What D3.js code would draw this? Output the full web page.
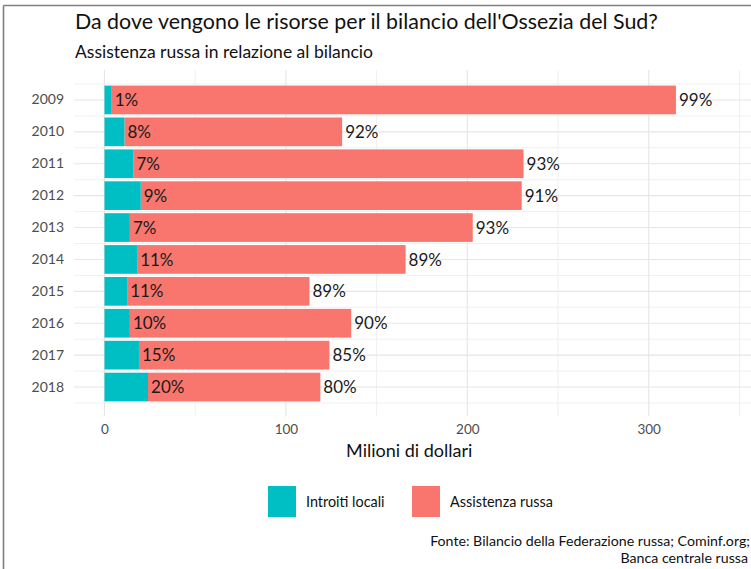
<!DOCTYPE html>
<html>
<head>
<meta charset="utf-8">
<script src="https://cdn.jsdelivr.net/npm/d3@7"></script>
<style>
  html, body { margin: 0; padding: 0; background: #fff; }
  svg { display: block; font-family: Lato, "Open Sans", sans-serif; }
</style>
</head>
<body>
<svg id="chart" width="751" height="569"></svg>
<script>
// South Ossetia budget: local revenue vs. Russian assistance (million USD)
const years = ["2009", "2010", "2011", "2012", "2013", "2014", "2015", "2016", "2017", "2018"];
const localRevenue = [4, 11, 16, 20, 14, 18, 12.5, 14, 19, 24];
const russianAid = [311, 120, 215, 210, 189, 148, 100.5, 122, 105, 95];
const xTicks = [0, 100, 200, 300];
const xMinor = [50, 150, 250, 350];
const seriesNames = ["Introiti locali", "Assistenza russa"];
const seriesColors = ["#00BFC4", "#F8766D"];

const svg = d3.select("#chart");

// frame line around the graphic
svg.append("line").attr("x1", 3.5).attr("x2", 3.5).attr("y1", 5.5).attr("y2", 569)
  .attr("stroke", "#808080").attr("stroke-width", 1.6);
svg.append("line").attr("x1", 3.5).attr("x2", 751).attr("y1", 5.5).attr("y2", 5.5)
  .attr("stroke", "#808080").attr("stroke-width", 1.6);

const panel = { left: 74, right: 744.5, top: 70, bottom: 416 };

const x = d3.scaleLinear().domain([-16.8, 352.8]).range([panel.left, panel.right]);
const y = d3.scaleBand().domain(years).range([84, 403]).paddingInner(0.1).paddingOuter(0.05);
const step = y.step();

// grid
const grid = svg.append("g");
grid.selectAll(".vminor").data(xMinor).join("line")
  .attr("x1", d => x(d)).attr("x2", d => x(d))
  .attr("y1", panel.top).attr("y2", panel.bottom)
  .attr("stroke", "#f0f0f0").attr("stroke-width", 1);
const hMinor = d3.range(years.length + 1).map(i => y(years[0]) + y.bandwidth() / 2 - step / 2 + i * step);
grid.selectAll(".hminor").data(hMinor).join("line")
  .attr("x1", panel.left).attr("x2", 751)
  .attr("y1", d => d).attr("y2", d => d)
  .attr("stroke", "#f0f0f0").attr("stroke-width", 1);
grid.selectAll(".vmajor").data(xTicks).join("line")
  .attr("x1", d => x(d)).attr("x2", d => x(d))
  .attr("y1", panel.top).attr("y2", panel.bottom)
  .attr("stroke", "#e6e6e6").attr("stroke-width", 1.1);
grid.selectAll(".hmajor").data(years).join("line")
  .attr("x1", panel.left).attr("x2", 751)
  .attr("y1", d => y(d) + y.bandwidth() / 2).attr("y2", d => y(d) + y.bandwidth() / 2)
  .attr("stroke", "#e6e6e6").attr("stroke-width", 1.1);

// axes (text only)
const yAxis = d3.axisLeft(y).tickSize(0).tickPadding(10);
svg.append("g").attr("transform", `translate(${panel.left},0)`).call(yAxis)
  .call(g => g.select(".domain").remove())
  .selectAll("text").attr("font-size", 14).attr("fill", "#4d4d4d")
  .attr("font-family", "Lato, sans-serif");

const xAxis = d3.axisBottom(x).tickValues(xTicks).tickSize(0).tickPadding(8);
svg.append("g").attr("transform", `translate(0,${panel.bottom})`).call(xAxis)
  .call(g => g.select(".domain").remove())
  .selectAll("text").attr("font-size", 13.5).attr("fill", "#4d4d4d")
  .attr("font-family", "Lato, sans-serif");

// stacked bars
const rows = years.map((yr, i) => ({
  year: yr, local: localRevenue[i], aid: russianAid[i], total: localRevenue[i] + russianAid[i]
}));
const bars = svg.append("g");
bars.selectAll(".aid").data(rows).join("rect")
  .attr("x", d => x(d.local)).attr("width", d => x(d.total) - x(d.local))
  .attr("y", d => y(d.year)).attr("height", y.bandwidth())
  .attr("fill", seriesColors[1]);
bars.selectAll(".loc").data(rows).join("rect")
  .attr("x", x(0)).attr("width", d => x(d.local) - x(0))
  .attr("y", d => y(d.year)).attr("height", y.bandwidth())
  .attr("fill", seriesColors[0]);

// percentage labels
const labels = svg.append("g").attr("font-size", 17).attr("fill", "#1a1a1a");
labels.selectAll(".pl").data(rows).join("text")
  .attr("x", d => x(d.local) + 3).attr("y", d => y(d.year) + y.bandwidth() / 2)
  .attr("dy", "0.36em")
  .text(d => Math.round(d.local / d.total * 100) + "%");
labels.selectAll(".pa").data(rows).join("text")
  .attr("x", d => x(d.total) + 3).attr("y", d => y(d.year) + y.bandwidth() / 2)
  .attr("dy", "0.36em")
  .text(d => Math.round(d.aid / d.total * 100) + "%");

// titles
svg.append("text").attr("x", 75).attr("y", 29).attr("font-size", 21.4).attr("fill", "#111")
  .text("Da dove vengono le risorse per il bilancio dell'Ossezia del Sud?");
svg.append("text").attr("x", 75).attr("y", 58).attr("font-size", 17.5).attr("fill", "#111")
  .text("Assistenza russa in relazione al bilancio");
svg.append("text").attr("x", (panel.left + panel.right) / 2).attr("y", 457)
  .attr("text-anchor", "middle").attr("font-size", 18).attr("fill", "#111")
  .text("Milioni di dollari");

// legend
const legend = svg.append("g");
const legendX = [268, 412];
seriesNames.forEach((name, i) => {
  legend.append("rect").attr("x", legendX[i]).attr("y", 486).attr("width", 28).attr("height", 31)
    .attr("fill", seriesColors[i]);
  legend.append("text").attr("x", legendX[i] + 38).attr("y", 501.5).attr("dy", "0.36em")
    .attr("font-size", 14.4).attr("fill", "#111").text(name);
});

// source
svg.append("text").attr("x", 750).attr("y", 546).attr("text-anchor", "end")
  .attr("font-size", 14.2).attr("fill", "#111")
  .text("Fonte: Bilancio della Federazione russa; Cominf.org;");
svg.append("text").attr("x", 748).attr("y", 563).attr("text-anchor", "end")
  .attr("font-size", 14.2).attr("fill", "#111")
  .text("Banca centrale russa");
</script>
</body>
</html>
